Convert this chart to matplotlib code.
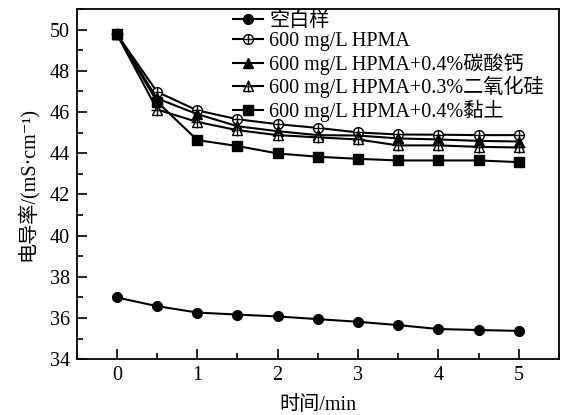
import matplotlib
matplotlib.use('Agg')
import matplotlib.pyplot as plt
from matplotlib.ticker import MultipleLocator

plt.rcParams['font.family'] = ['Liberation Serif', 'Noto Sans CJK SC', 'DejaVu Sans']

# time (min)
t = [0, 0.5, 1, 1.5, 2, 2.5, 3, 3.5, 4, 4.5, 5]

# conductivity (mS/cm)
blank = [37.0, 36.58, 36.27, 36.17, 36.08, 35.95, 35.82, 35.66, 35.47, 35.42, 35.38]
hpma = [49.78, 46.98, 46.08, 45.65, 45.41, 45.23, 45.01, 44.91, 44.90, 44.88, 44.88]
hpma_caco3 = [49.78, 46.66, 45.90, 45.31, 45.07, 44.88, 44.86, 44.72, 44.67, 44.60, 44.57]
hpma_sio2 = [49.78, 46.12, 45.52, 45.12, 44.88, 44.77, 44.67, 44.38, 44.38, 44.31, 44.28]
hpma_clay = [49.78, 46.50, 44.64, 44.35, 43.99, 43.83, 43.73, 43.65, 43.65, 43.65, 43.57]

labels = ['空白样', '600 mg/L HPMA', '600 mg/L HPMA+0.4%碳酸钙',
          '600 mg/L HPMA+0.3%二氧化硅', '600 mg/L HPMA+0.4%黏土']

fig = plt.figure(figsize=(5.62, 4.15), dpi=100)
ax = fig.add_axes([0.1365, 0.1342, 0.858, 0.8441])

lw = 1.5
ms = 7
h1, = ax.plot(t, blank, '-o', color='black', lw=lw, ms=ms)
h2a, = ax.plot(t, hpma, '-o', color='black', lw=lw, ms=ms, mfc='white', mew=1.0)
h2b, = ax.plot(t, hpma, '+', color='black', ms=ms, mew=1.0)
h3, = ax.plot(t, hpma_caco3, '-^', color='black', lw=lw, ms=ms + 0.5)
h4a, = ax.plot(t, hpma_sio2, '-^', color='black', lw=lw, ms=ms + 0.5, mfc='white', mew=1.0)
h4b, = ax.plot(t, hpma_sio2, '+', color='black', ms=ms + 1, mew=1.0)
h5, = ax.plot(t, hpma_clay, '-s', color='black', lw=lw, ms=ms - 0.5)

ax.legend([h1, (h2a, h2b), h3, (h4a, h4b), h5], labels, loc='upper left',
          bbox_to_anchor=(0.324, 0.993), frameon=False, fontsize=14.5,
          handlelength=1.5, handletextpad=0.3, labelspacing=0.08, borderpad=0.0,
          borderaxespad=0.0)

ax.set_xlim(-0.5, 5.5)
ax.set_ylim(34, 51)
ax.set_xticks([0, 1, 2, 3, 4, 5])
ax.set_yticks([34, 36, 38, 40, 42, 44, 46, 48, 50])
ax.xaxis.set_minor_locator(MultipleLocator(0.5))
ax.yaxis.set_minor_locator(MultipleLocator(1))
ax.tick_params(which='both', direction='in', top=False, right=False, labelsize=14.5, width=1.2)
ax.tick_params(which='major', length=7, pad=5)
ax.tick_params(which='minor', length=4)
for s in ax.spines.values():
    s.set_linewidth(1.3)

ax.set_xlabel('时间/min', fontsize=14.5, labelpad=8)
ax.set_ylabel('电导率/(mS·cm⁻¹)', fontsize=14.5, labelpad=8)

fig.savefig('out.png', dpi=100)
